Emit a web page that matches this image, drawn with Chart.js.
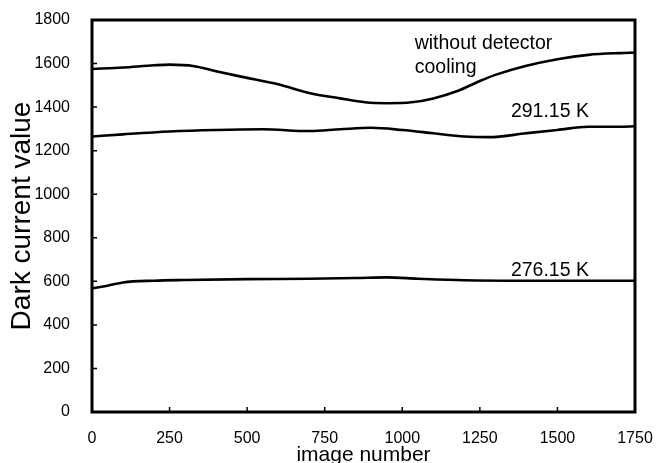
<!DOCTYPE html>
<html><head><meta charset="utf-8">
<style>html,body{margin:0;padding:0;background:#fff}#wrap{width:656px;height:463px}</style>
<script src="https://cdn.jsdelivr.net/npm/chart.js@4/dist/chart.umd.min.js"></script>
</head><body><div id="wrap"><canvas id="c" width="656" height="463"></canvas></div>
<script>
// ---- data ----
const xNoCool = [0, 100, 200, 250, 330, 400, 480, 600, 700, 800, 880, 950, 1030, 1100, 1180, 1250, 1300, 1400, 1500, 1600, 1700, 1750];
const yNoCool = [1575, 1582, 1592, 1595, 1588, 1565, 1540, 1505, 1465, 1440, 1422, 1418, 1422, 1440, 1475, 1520, 1548, 1590, 1620, 1640, 1648, 1650];

const x291 = [0, 100, 250, 400, 550, 700, 800, 900, 1000, 1100, 1200, 1280, 1400, 1500, 1600, 1700, 1750];
const y291 = [1265, 1275, 1288, 1295, 1298, 1290, 1298, 1305, 1295, 1280, 1265, 1262, 1280, 1295, 1310, 1310, 1312];

const x276 = [0, 50, 100, 200, 300, 500, 700, 850, 950, 1050, 1200, 1400, 1600, 1750];
const y276 = [568, 580, 595, 603, 606, 610, 612, 615, 618, 612, 605, 603, 603, 603];

const xTicks = [0, 250, 500, 750, 1000, 1250, 1500, 1750];
const yTicks = [0, 200, 400, 600, 800, 1000, 1200, 1400, 1600, 1800];

const xTitle = 'image number';
const yTitle = 'Dark current value';

const annoText = ['without detector', 'cooling', '291.15 K', '276.15 K'];
const annoX = [1040, 1040, 1350, 1350];
const annoY = [1692, 1582, 1377, 647];

// ---- chart ----
const FAM = '"Liberation Sans", Arial, Helvetica, sans-serif';
const toPts = (xs, ys) => xs.map((x, i) => ({x: x, y: ys[i]}));
const lineDs = (xs, ys) => ({
  data: toPts(xs, ys), borderColor: '#000', borderWidth: 2.6, pointRadius: 0,
  fill: false, tension: 0.4, cubicInterpolationMode: 'monotone'
});

const framePlugin = {
  id: 'frame',
  afterDatasetsDraw(chart) {
    const {ctx, chartArea: a, scales} = chart;
    ctx.save();
    ctx.strokeStyle = '#000';
    ctx.lineWidth = 1.5;
    ctx.beginPath();
    yTicks.forEach(v => {
      const p = scales.y.getPixelForValue(v);
      ctx.moveTo(a.left, p); ctx.lineTo(a.left + 5, p);
    });
    xTicks.forEach(v => {
      const p = scales.x.getPixelForValue(v);
      ctx.moveTo(p, a.bottom); ctx.lineTo(p, a.bottom - 5);
    });
    ctx.stroke();
    ctx.lineWidth = 3;
    ctx.strokeRect(a.left, a.top, a.right - a.left, a.bottom - a.top);
    ctx.fillStyle = '#000';
    ctx.font = '19.5px ' + FAM;
    ctx.textAlign = 'left';
    ctx.textBaseline = 'middle';
    annoText.forEach((t, i) => {
      ctx.fillText(t, scales.x.getPixelForValue(annoX[i]), scales.y.getPixelForValue(annoY[i]));
    });
    ctx.restore();
  }
};

new Chart(document.getElementById('c'), {
  type: 'line',
  data: { datasets: [lineDs(xNoCool, yNoCool), lineDs(x291, y291), lineDs(x276, y276)] },
  options: {
    responsive: false, animation: false, devicePixelRatio: 1,
    layout: { padding: { top: 20, right: 21, left: 0, bottom: 0 } },
    plugins: { legend: { display: false }, tooltip: { enabled: false } },
    scales: {
      x: {
        type: 'linear', min: 0, max: 1750,
        afterBuildTicks: s => { s.ticks = xTicks.map(v => ({value: v})); },
        afterFit: s => { s.height = 51; s.paddingLeft = 0; s.paddingRight = 0; },
        grid: { display: false }, border: { display: false },
        ticks: { color: '#000', font: { family: FAM, size: 16 }, padding: 9, maxRotation: 0, autoSkip: false,
                 callback: v => String(v) },
        title: { display: true, text: xTitle, color: '#000', font: { family: FAM, size: 21 }, padding: { top: 0, bottom: -5 } }
      },
      y: {
        type: 'linear', min: 0, max: 1800,
        afterBuildTicks: s => { s.ticks = yTicks.map(v => ({value: v})); },
        afterFit: s => { s.width = 92; s.paddingTop = 0; s.paddingBottom = 0; },
        grid: { display: false }, border: { display: false },
        ticks: { color: '#000', font: { family: FAM, size: 16 }, padding: 14, autoSkip: false,
                 callback: v => String(v) },
        title: { display: true, text: yTitle, color: '#000', font: { family: FAM, size: 28 }, padding: { top: 5, bottom: 0 } }
      }
    }
  },
  plugins: [framePlugin]
});
</script></body></html>
